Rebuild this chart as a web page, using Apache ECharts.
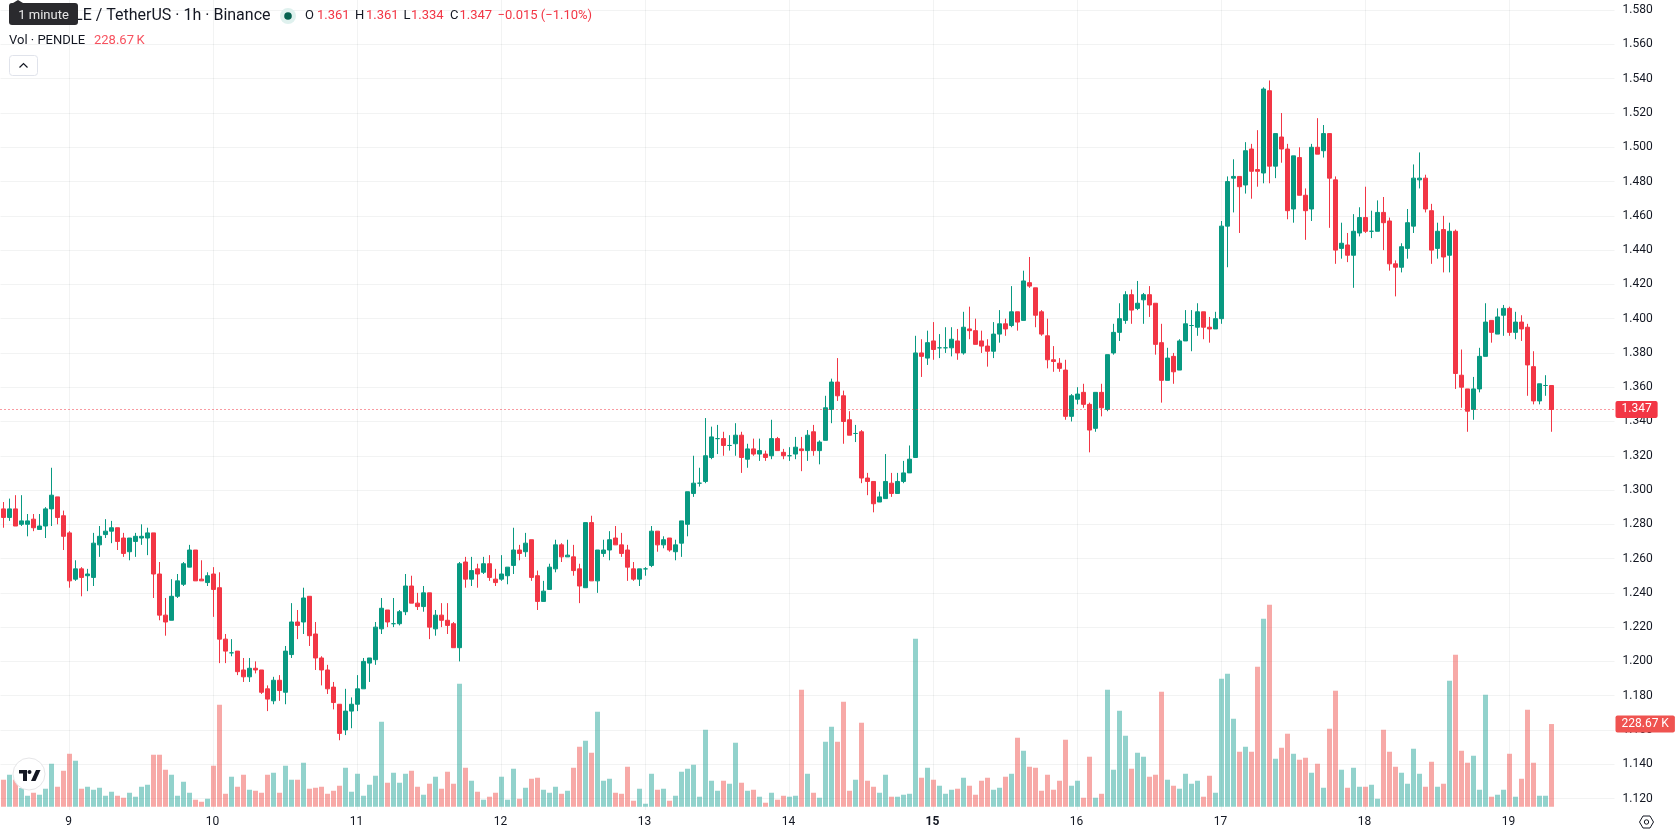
<!DOCTYPE html>
<html>
<head>
<meta charset="utf-8">
<title>PENDLE / TetherUS 1h</title>
<style>
  html, body { margin: 0; padding: 0; background: #ffffff; }
  #chart { width: 1678px; height: 835px; }
</style>
<script src="https://cdn.jsdelivr.net/npm/echarts@6/dist/echarts.min.js"></script>
</head>
<body>
<div id="chart"></div>
<script>
// Hourly PENDLE/USDT candles, oldest first.
const openPrices = [
  1.289,1.284,1.289,1.280,1.280,1.283,1.277,1.279,1.289,1.296,
  1.285,1.275,1.248,1.254,1.250,1.249,1.268,1.274,1.276,1.278,
  1.272,1.264,1.270,1.272,1.272,1.275,1.251,1.227,1.224,1.238,
  1.245,1.255,1.265,1.248,1.246,1.251,1.243,1.213,1.205,1.206,
  1.195,1.191,1.196,1.195,1.184,1.177,1.189,1.182,1.204,1.223,
  1.223,1.238,1.216,1.202,1.195,1.185,1.175,1.160,1.171,1.175,
  1.184,1.199,1.201,1.219,1.230,1.222,1.222,1.229,1.244,1.234,
  1.232,1.240,1.219,1.227,1.224,1.222,1.208,1.258,1.248,1.254,
  1.252,1.257,1.248,1.248,1.250,1.256,1.265,1.264,1.271,1.250,
  1.235,1.242,1.254,1.268,1.261,1.261,1.254,1.243,1.281,1.247,
  1.263,1.265,1.272,1.268,1.265,1.254,1.248,1.254,1.256,1.276,
  1.268,1.272,1.264,1.269,1.280,1.298,1.304,1.305,1.319,1.330,
  1.330,1.326,1.327,1.332,1.318,1.324,1.321,1.321,1.320,1.330,
  1.322,1.320,1.321,1.324,1.323,1.334,1.323,1.329,1.347,1.363,
  1.355,1.341,1.333,1.334,1.307,1.305,1.293,1.295,1.304,1.298,
  1.305,1.310,1.319,1.380,1.377,1.387,1.383,1.383,1.383,1.387,
  1.380,1.394,1.393,1.387,1.384,1.381,1.391,1.397,1.396,1.404,
  1.399,1.421,1.418,1.404,1.390,1.376,1.374,1.370,1.343,1.353,
  1.357,1.350,1.336,1.357,1.347,1.380,1.392,1.399,1.414,1.406,
  1.411,1.414,1.409,1.386,1.364,1.378,1.370,1.387,1.396,1.395,
  1.404,1.395,1.394,1.400,1.454,1.482,1.483,1.478,1.499,1.487,
  1.485,1.533,1.489,1.506,1.499,1.464,1.494,1.472,1.464,1.500,
  1.498,1.508,1.481,1.441,1.443,1.437,1.450,1.459,1.451,1.451,
  1.462,1.457,1.432,1.430,1.441,1.454,1.481,1.482,1.463,1.441,
  1.452,1.437,1.451,1.367,1.359,1.347,1.359,1.378,1.399,1.391,
  1.402,1.406,1.392,1.398,1.395,1.372,1.352,1.361,1.361
];
const highPrices = [
  1.293,1.295,1.297,1.297,1.286,1.286,1.286,1.290,1.313,1.296,
  1.288,1.276,1.259,1.255,1.254,1.275,1.279,1.283,1.282,1.278,
  1.275,1.272,1.275,1.280,1.278,1.275,1.258,1.237,1.248,1.251,
  1.258,1.268,1.265,1.259,1.252,1.255,1.252,1.216,1.213,1.206,
  1.202,1.202,1.200,1.195,1.186,1.191,1.192,1.209,1.234,1.230,
  1.243,1.238,1.223,1.203,1.198,1.188,1.175,1.184,1.179,1.192,
  1.202,1.202,1.223,1.237,1.230,1.237,1.230,1.251,1.250,1.240,
  1.244,1.240,1.230,1.234,1.234,1.223,1.258,1.261,1.261,1.257,
  1.261,1.262,1.254,1.262,1.255,1.278,1.268,1.275,1.271,1.253,
  1.247,1.257,1.271,1.269,1.271,1.268,1.257,1.281,1.285,1.265,
  1.271,1.276,1.279,1.275,1.268,1.258,1.254,1.255,1.279,1.276,
  1.273,1.272,1.271,1.282,1.299,1.320,1.313,1.342,1.337,1.338,
  1.334,1.332,1.339,1.334,1.327,1.330,1.330,1.323,1.341,1.331,
  1.324,1.325,1.331,1.331,1.335,1.338,1.329,1.355,1.365,1.377,
  1.358,1.346,1.338,1.335,1.310,1.305,1.299,1.321,1.310,1.310,
  1.317,1.326,1.390,1.388,1.393,1.398,1.391,1.395,1.395,1.394,
  1.404,1.407,1.400,1.393,1.388,1.398,1.405,1.400,1.419,1.404,
  1.428,1.436,1.418,1.405,1.400,1.384,1.377,1.376,1.356,1.360,
  1.362,1.351,1.357,1.362,1.379,1.397,1.409,1.416,1.417,1.422,
  1.415,1.419,1.409,1.397,1.383,1.380,1.388,1.405,1.405,1.409,
  1.404,1.401,1.404,1.457,1.483,1.493,1.483,1.503,1.502,1.510,
  1.535,1.539,1.508,1.520,1.502,1.495,1.500,1.476,1.502,1.517,
  1.513,1.508,1.483,1.456,1.450,1.461,1.465,1.477,1.463,1.469,
  1.471,1.459,1.434,1.444,1.464,1.490,1.497,1.484,1.467,1.456,
  1.460,1.456,1.452,1.382,1.359,1.366,1.383,1.409,1.399,1.406,
  1.408,1.407,1.404,1.402,1.397,1.381,1.362,1.367,1.361
];
const lowPrices = [
  1.278,1.282,1.279,1.279,1.273,1.276,1.277,1.272,1.279,1.280,
  1.265,1.243,1.247,1.238,1.241,1.244,1.261,1.272,1.269,1.265,
  1.261,1.259,1.261,1.268,1.262,1.237,1.224,1.215,1.224,1.237,
  1.244,1.255,1.247,1.247,1.244,1.226,1.199,1.199,1.203,1.192,
  1.188,1.188,1.193,1.181,1.171,1.175,1.177,1.175,1.202,1.213,
  1.216,1.209,1.195,1.186,1.181,1.172,1.154,1.157,1.161,1.171,
  1.184,1.188,1.198,1.216,1.220,1.220,1.221,1.227,1.234,1.230,
  1.229,1.213,1.215,1.220,1.216,1.208,1.200,1.243,1.244,1.243,
  1.251,1.247,1.244,1.247,1.245,1.251,1.259,1.261,1.247,1.230,
  1.235,1.242,1.252,1.258,1.261,1.250,1.234,1.243,1.247,1.240,
  1.261,1.259,1.268,1.261,1.247,1.247,1.244,1.250,1.255,1.264,
  1.266,1.264,1.259,1.261,1.273,1.296,1.302,1.304,1.318,1.321,
  1.320,1.323,1.320,1.310,1.313,1.320,1.317,1.317,1.318,1.323,
  1.318,1.317,1.318,1.311,1.317,1.320,1.315,1.329,1.339,1.352,
  1.327,1.332,1.328,1.304,1.297,1.287,1.293,1.295,1.296,1.298,
  1.304,1.310,1.319,1.366,1.373,1.376,1.377,1.380,1.378,1.376,
  1.379,1.388,1.385,1.380,1.372,1.377,1.386,1.390,1.395,1.393,
  1.399,1.418,1.395,1.390,1.371,1.369,1.369,1.341,1.340,1.350,
  1.348,1.322,1.334,1.343,1.346,1.379,1.387,1.397,1.397,1.405,
  1.397,1.401,1.379,1.351,1.364,1.362,1.370,1.387,1.381,1.390,
  1.388,1.386,1.394,1.397,1.430,1.462,1.450,1.473,1.470,1.477,
  1.479,1.479,1.482,1.491,1.458,1.456,1.472,1.446,1.457,1.496,
  1.494,1.453,1.432,1.435,1.433,1.418,1.448,1.450,1.447,1.451,
  1.440,1.428,1.413,1.427,1.435,1.450,1.476,1.462,1.432,1.435,
  1.427,1.427,1.359,1.348,1.334,1.341,1.357,1.378,1.386,1.391,
  1.390,1.390,1.388,1.387,1.355,1.350,1.350,1.355,1.334
];
const closePrices = [
  1.284,1.289,1.279,1.282,1.282,1.278,1.279,1.289,1.297,1.284,
  1.273,1.247,1.254,1.249,1.251,1.269,1.273,1.276,1.278,1.270,
  1.263,1.272,1.273,1.273,1.275,1.251,1.227,1.223,1.238,1.247,
  1.257,1.265,1.247,1.247,1.250,1.242,1.213,1.206,1.205,1.194,
  1.191,1.196,1.195,1.182,1.178,1.189,1.183,1.206,1.223,1.221,
  1.237,1.215,1.202,1.195,1.184,1.176,1.158,1.171,1.175,1.184,
  1.200,1.202,1.220,1.231,1.223,1.222,1.229,1.244,1.234,1.232,
  1.240,1.220,1.227,1.224,1.221,1.208,1.257,1.248,1.253,1.251,
  1.257,1.249,1.246,1.251,1.255,1.265,1.263,1.269,1.249,1.235,
  1.241,1.255,1.268,1.261,1.262,1.253,1.244,1.281,1.247,1.265,
  1.265,1.271,1.268,1.263,1.255,1.248,1.254,1.254,1.276,1.268,
  1.271,1.265,1.268,1.282,1.299,1.304,1.304,1.320,1.331,1.330,
  1.326,1.326,1.332,1.319,1.324,1.321,1.323,1.319,1.330,1.323,
  1.320,1.320,1.325,1.323,1.332,1.323,1.328,1.348,1.363,1.355,
  1.340,1.332,1.333,1.307,1.305,1.292,1.296,1.305,1.298,1.305,
  1.310,1.318,1.380,1.378,1.386,1.382,1.383,1.383,1.388,1.380,
  1.395,1.393,1.385,1.384,1.381,1.391,1.397,1.394,1.404,1.398,
  1.422,1.419,1.402,1.391,1.376,1.375,1.371,1.343,1.355,1.356,
  1.350,1.335,1.357,1.348,1.379,1.392,1.400,1.414,1.405,1.409,
  1.414,1.408,1.385,1.364,1.377,1.369,1.387,1.397,1.396,1.404,
  1.395,1.394,1.400,1.454,1.480,1.483,1.477,1.498,1.486,1.486,
  1.534,1.489,1.508,1.499,1.463,1.495,1.472,1.463,1.500,1.496,
  1.508,1.482,1.440,1.444,1.437,1.451,1.459,1.451,1.451,1.462,
  1.456,1.432,1.430,1.442,1.456,1.482,1.482,1.464,1.440,1.451,
  1.436,1.451,1.368,1.360,1.346,1.359,1.378,1.398,1.392,1.401,
  1.406,1.392,1.398,1.394,1.373,1.352,1.362,1.361,1.347
];
// Traded volume per candle, in thousands of PENDLE.
const volumes = [
  74.7,88.5,75,51.6,30.4,38.7,33.2,49.8,118.9,55.3,
  99.5,146.5,127.2,49.8,55.3,47,52.5,30.4,41.5,30.4,
  24.9,38.7,27.7,55.3,60.8,143.8,143.8,102.3,88.5,30.4,
  69.1,38.7,19.4,13.8,22.1,113.4,282,35.9,83,55.3,
  88.5,47,44.2,38.7,88.5,94,38.7,113.4,74.7,74.7,
  121.7,49.8,52.5,55.3,35.9,44.2,58.1,107.8,41.5,91.2,
  30.4,60.8,85.7,235,66.4,94,66.4,91.2,99.5,55.3,
  33.2,63.6,83,49.8,96.8,63.6,340.1,107.8,71.9,41.5,
  19.4,27.7,38.7,83,19.4,105.1,22.1,52.5,77.4,80.2,
  47,38.7,55.3,35.9,44.2,107.8,165.9,182.5,149.3,262.7,
  71.9,77.4,38.7,35.9,110.6,16.6,49.8,8.3,91.2,47,
  49.8,16.6,30.4,96.8,105.1,116.1,27.7,212.9,71.9,44.2,
  71.9,63.6,177,66.4,44.2,47,27.7,11.1,38.7,19.4,
  30.4,27.7,30.4,323.5,91.2,38.7,24.9,179.7,221.2,179.7,
  290.3,44.2,74.7,232.3,71.9,55.3,38.7,88.5,27.7,27.7,
  33.2,35.9,464.5,80.2,107.8,74.7,58.1,35.9,47,49.8,
  80.2,58.1,33.2,71.9,80.2,47,52.5,83,91.2,190.8,
  154.8,110.6,107.8,44.2,88.5,47,71.9,185.3,58.1,71.9,
  24.9,138.3,24.9,35.9,323.5,102.3,265.4,196.3,105.1,149.3,
  138.3,83,88.5,318,74.7,58.1,49.8,91.2,63.6,71.9,
  27.7,85.7,38.7,353.9,367.8,243.3,152.1,165.9,152.1,387.1,
  519.8,558.5,132.7,163.1,201.9,146.5,130,135.5,94,118.9,
  52.5,215.7,320.8,102.3,52.5,107.8,55.3,55.3,60.8,22.1,
  212.9,152.1,110.6,94,63.6,160.4,91.2,55.3,124.4,55.3,
  63.6,348.4,420.3,154.8,121.7,141,47,309.7,27.7,33.2,
  47,146.5,27.7,77.4,268.2,121.7,30.4,30.4,228.67
];
// Day-of-month captions; the first one falls on the candle at firstDayIndex.
const dayLabels = ['9','10','11','12','13','14','15','16','17','18','19'];
const firstDayIndex = 11;
const candlesPerDay = 24;
const emptyBarsOnRight = 10;
const lastChangeText = '−0.015 (−1.10%)';

const UP = '#089981', DOWN = '#f23645';
const VOL_UP = 'rgba(38,166,154,0.5)', VOL_DOWN = 'rgba(239,83,80,0.5)';
const GRID_LINE = 'rgba(42,46,57,0.06)';
const TEXT = '#131722';
const FONT = 'Roboto, sans-serif';

const lastOpen = openPrices[openPrices.length - 1];
const lastHigh = highPrices[highPrices.length - 1];
const lastLow = lowPrices[lowPrices.length - 1];
const lastClose = closePrices[closePrices.length - 1];
const lastVolume = volumes[volumes.length - 1];

const categories = [];
for (let i = 0; i < openPrices.length + emptyBarsOnRight; i++) {
  const d = i - firstDayIndex;
  categories.push(d >= 0 && d % candlesPerDay === 0 ? dayLabels[d / candlesPerDay] || '' : '');
}
const isDayStart = (index, value) => value !== '';

const candleData = openPrices.map((o, i) => [o, closePrices[i], lowPrices[i], highPrices[i]]);
const volumeData = volumes.map((v, i) => ({
  value: v,
  itemStyle: { color: closePrices[i] >= openPrices[i] ? VOL_UP : VOL_DOWN }
}));

const plotLeft = 0.5;
const plotWidth = categories.length * 6;

const chart = echarts.init(document.getElementById('chart'), null, { renderer: 'canvas' });

function text(x, y, style) {
  return {
    type: 'text', x, y, z: 100, silent: true,
    style: Object.assign({ fontFamily: FONT, fontSize: 13, fill: TEXT, verticalAlign: 'middle' }, style)
  };
}

chart.setOption({
  animation: false,
  backgroundColor: '#ffffff',
  textStyle: { fontFamily: FONT },
  grid: [
    { left: plotLeft, width: plotWidth, top: 10.2, height: 788.3, containLabel: false },
    { left: plotLeft, width: plotWidth, top: 0, height: 810, containLabel: false }
  ],
  xAxis: [
    {
      type: 'category', gridIndex: 0, data: categories, show: false, boundaryGap: true
    },
    {
      type: 'category', gridIndex: 1, data: categories, boundaryGap: true,
      axisLine: { show: false },
      axisTick: { show: false },
      axisLabel: {
        interval: isDayStart, margin: 6, fontSize: 12, fontFamily: FONT, color: TEXT,
        hideOverlap: false, padding: [0, 2, 0, 0],
        formatter: v => (v === '15' ? '{strong|15}' : v),
        rich: { strong: { fontWeight: 'bold', fontSize: 12, fontFamily: FONT, color: TEXT } }
      },
      splitLine: {
        show: true, interval: isDayStart, alignWithLabel: true,
        lineStyle: { color: GRID_LINE, width: 1 }
      }
    }
  ],
  yAxis: [
    {
      type: 'value', gridIndex: 0, position: 'right', min: 1.12, max: 1.58, interval: 0.02,
      axisLine: { show: false },
      axisTick: { show: false },
      axisLabel: {
        margin: 8, fontSize: 12, fontFamily: FONT, color: TEXT, padding: [2, 0, 0, 0],
        formatter: v => v.toFixed(3)
      },
      splitLine: { show: true, lineStyle: { color: GRID_LINE, width: 1 } }
    },
    {
      type: 'value', gridIndex: 1, min: -9, max: 2230.7, show: false,
      splitLine: { show: false }
    }
  ],
  series: [
    {
      name: 'Vol', type: 'bar', xAxisIndex: 1, yAxisIndex: 1, z: 2,
      barWidth: 5, data: volumeData, silent: true,
      markLine: {
        silent: true, symbol: 'none', z: 20, precision: 2,
        lineStyle: { color: 'rgba(0,0,0,0)', width: 1 },
        label: {
          show: true, position: 'end', distance: 1, color: '#ffffff',
          backgroundColor: '#ef5350', borderRadius: 2, padding: [3, 6, 2, 6],
          fontFamily: FONT, fontSize: 12,
          formatter: () => lastVolume.toFixed(2) + ' K'
        },
        data: [{ yAxis: lastVolume }]
      }
    },
    {
      name: 'PENDLE / TetherUS', type: 'candlestick', xAxisIndex: 0, yAxisIndex: 0, z: 3,
      barWidth: 4, data: candleData, silent: true,
      itemStyle: {
        color: UP, color0: DOWN, borderColor: UP, borderColor0: DOWN,
        borderColorDoji: UP, borderWidth: 1
      },
      markLine: {
        silent: true, symbol: 'none', z: 20, precision: 3,
        lineStyle: { color: DOWN, width: 1, type: [1, 3] },
        label: {
          show: true, position: 'end', distance: 1, color: '#ffffff',
          backgroundColor: DOWN, borderRadius: 2, padding: [3, 6, 2, 6],
          fontFamily: FONT, fontSize: 12,
          formatter: () => lastClose.toFixed(3)
        },
        data: [{ yAxis: lastClose }]
      }
    }
  ],
  graphic: [
    // Legend rows
    text(270.5, 16, { text: 'PENDLE / TetherUS · 1h · Binance', fontSize: 16, align: 'right' }),
    { type: 'circle', z: 100, silent: true, shape: { cx: 288, cy: 16, r: 8 }, style: { fill: '#dff1ee' } },
    { type: 'circle', z: 101, silent: true, shape: { cx: 288, cy: 16, r: 3.8 }, style: { fill: '#06614f' } },
    text(305, 16, { text: 'O' }),
    text(317, 16, { text: lastOpen.toFixed(3), fill: DOWN }),
    text(355, 16, { text: 'H' }),
    text(366, 16, { text: lastHigh.toFixed(3), fill: DOWN }),
    text(403.5, 16, { text: 'L' }),
    text(411, 16, { text: lastLow.toFixed(3), fill: DOWN }),
    text(450, 16, { text: 'C' }),
    text(459.5, 16, { text: lastClose.toFixed(3), fill: DOWN }),
    text(497.5, 16, { text: lastChangeText, fill: DOWN }),
    text(9, 41, { text: 'Vol · PENDLE' }),
    text(94, 41, { text: lastVolume.toFixed(2) + '\u2009K', fill: '#f7525f' }),

    // Collapse button
    {
      type: 'rect', z: 100, silent: true,
      shape: { x: 9.5, y: 55.5, width: 28, height: 20, r: 3 },
      style: { fill: '#ffffff', stroke: '#e0e3eb', lineWidth: 1 }
    },
    {
      type: 'polyline', z: 101, silent: true,
      shape: { points: [[19.5, 67.5], [23.5, 63.5], [27.5, 67.5]] },
      style: { stroke: TEXT, lineWidth: 1.2, fill: null }
    },

    // Hover hint sitting on the legend
    {
      type: 'polygon', z: 110, silent: true,
      shape: { points: [[13, 3], [18, 0], [23, 3]] },
      style: { fill: '#2a2a2e' }
    },
    {
      type: 'rect', z: 110, silent: true,
      shape: { x: 9, y: 3, width: 69, height: 22, r: 3 },
      style: { fill: '#2a2a2e' }
    },
    {
      type: 'text', x: 43.5, y: 15.5, z: 111, silent: true,
      style: { text: '1 minute', fontFamily: FONT, fontSize: 13, fill: '#e8e8e8', align: 'center', verticalAlign: 'middle' }
    },

    // Brand badge
    {
      type: 'circle', z: 120, silent: true, shape: { cx: 29, cy: 774, r: 16 },
      style: { fill: 'rgba(255,255,255,0.97)', stroke: '#e6e6e8', lineWidth: 1 }
    },
    {
      type: 'polygon', z: 121, silent: true,
      shape: { points: [[19, 770], [27, 770], [27, 781], [23, 781], [23, 773.5], [19, 773.5]] },
      style: { fill: '#131722' }
    },
    { type: 'circle', z: 121, silent: true, shape: { cx: 29.5, cy: 772, r: 2 }, style: { fill: '#131722' } },
    {
      type: 'polygon', z: 121, silent: true,
      shape: { points: [[36, 770], [40.5, 770], [35.5, 781], [31, 781]] },
      style: { fill: '#131722' }
    },

    // Settings icon at the axis corner
    {
      type: 'polygon', z: 100, silent: true,
      shape: { points: [[1639.5, 822], [1643, 816], [1650, 816], [1653.5, 822], [1650, 828], [1643, 828]] },
      style: { fill: null, stroke: TEXT, lineWidth: 1 }
    },
    {
      type: 'circle', z: 100, silent: true, shape: { cx: 1646.5, cy: 822, r: 2.2 },
      style: { fill: null, stroke: TEXT, lineWidth: 1 }
    }
  ]
});
</script>
</body>
</html>
